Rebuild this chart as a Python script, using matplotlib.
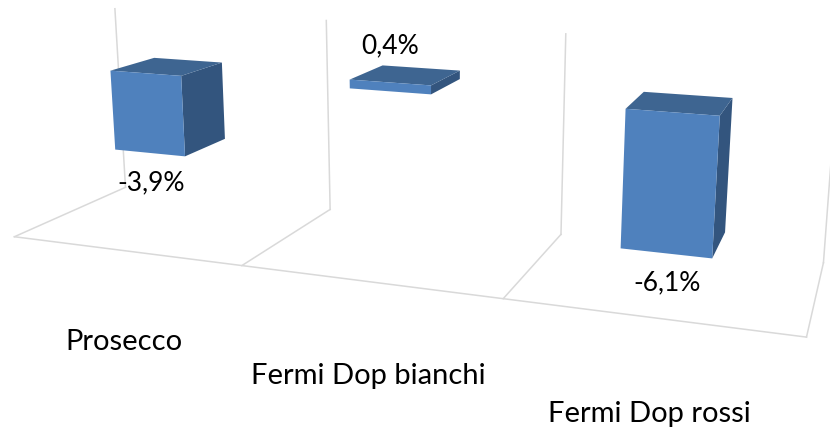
import numpy as np
import matplotlib
matplotlib.use('Agg')
import matplotlib.pyplot as plt
from matplotlib.patches import Polygon

#Data
categories = ['Prosecco', 'Fermi Dop bianchi', 'Fermi Dop rossi']
values = [-3.9, 0.4, -6.1]
value_labels = ['-3,9%', '0,4%', '-6,1%']

#Axis range of the value scale (estimated, the axis itself is not shown)
val_min = -8.15
val_max = 1.85

#Frame of the 3D box: (category pos, depth, value) and where it lands in the image
frame_world = [(0, 0, val_min), (1, 0, val_min), (2, 0, val_min), (3, 0, val_min),
               (0, 1, val_min), (1, 1, val_min), (2, 1, val_min), (3, 1, val_min),
               (0, 1, val_max), (1, 1, val_max), (2, 1, val_max)]
frame_px = [(14, 237), (243, 266), (502, 298), (807, 337),
            (125, 188), (331, 208), (561, 233), (823, 265),
            (115, 9), (326, 21), (566, 33)]

front_color = '#4F81BD'
top_color = '#3E6591'
side_color = '#33557E'
grid_color = '#D9D9D9'

plt.rcParams['font.family'] = ['Lato', 'DejaVu Sans']


#Fits the perspective camera that takes the box corners to the image
def fit_camera(world, px):
    rows = []
    rhs = []
    for (x, y, z), (u, v) in zip(world, px):
        rows.append([x, y, z, 1, 0, 0, 0, 0, -u * x, -u * y, -u * z])
        rhs.append(u)
        rows.append([0, 0, 0, 0, x, y, z, 1, -v * x, -v * y, -v * z])
        rhs.append(v)
    sol = np.linalg.lstsq(np.array(rows, float), np.array(rhs, float), rcond=None)[0]
    return np.append(sol, 1).reshape(3, 4)


camera = fit_camera(frame_world, frame_px)


def project(x, y, z):
    p = camera @ np.array([x, y, z, 1.0])
    return p[0] / p[2], p[1] / p[2]


fig = plt.figure(figsize=(8.3, 4.29), dpi=100)
ax = fig.add_axes([0, 0, 1, 1])
ax.set_xlim(0, 830)
ax.set_ylim(429, 0)
ax.axis('off')


def wall_line(a, b):
    pa = project(*a)
    pb = project(*b)
    ax.plot([pa[0], pb[0]], [pa[1], pb[1]], color=grid_color, lw=1.1, zorder=1)


#Floor edge, dividers and the lines up the back wall
wall_line((0, 0, val_min), (3, 0, val_min))
for i in range(4):
    wall_line((i, 0, val_min), (i, 1, val_min))
    wall_line((i, 1, val_min), (i, 1, val_max))

#Bars
bar_start = 0.36
bar_end = 0.67
depth_front = 0.24
depth_back = 0.64

for i, val in enumerate(values):
    x0 = i + bar_start
    x1 = i + bar_end
    hi = max(val, 0)
    lo = min(val, 0)
    front = [project(x0, depth_front, hi), project(x1, depth_front, hi),
             project(x1, depth_front, lo), project(x0, depth_front, lo)]
    top = [project(x0, depth_front, hi), project(x1, depth_front, hi),
           project(x1, depth_back, hi), project(x0, depth_back, hi)]
    side = [project(x1, depth_front, hi), project(x1, depth_back, hi),
            project(x1, depth_back, lo), project(x1, depth_front, lo)]
    ax.add_patch(Polygon(side, closed=True, fc=side_color, ec='none', zorder=3))
    ax.add_patch(Polygon(top, closed=True, fc=top_color, ec='none', zorder=3))
    ax.add_patch(Polygon(front, closed=True, fc=front_color, ec='none', zorder=3))

    #Value label sits past the end of the bar
    if val < 0:
        px, py = project((x0 + x1) / 2, depth_front, lo)
        py += 29.5
        px += 1
    else:
        px, py = project((x0 + x1) / 2, depth_back, hi)
        py -= 22
        px -= 31
    ax.text(px, py, value_labels[i], ha='center', va='center', fontsize=19, color='black', zorder=5)

#Category labels hang under the front edge
for i, name in enumerate(categories):
    px, py = project(i + 0.5, 0, val_min)
    ax.text(px, py + 91 + 3 * i, name, ha='center', va='center', fontsize=21, color='black', zorder=5)

fig.savefig('out.png', dpi=100)
